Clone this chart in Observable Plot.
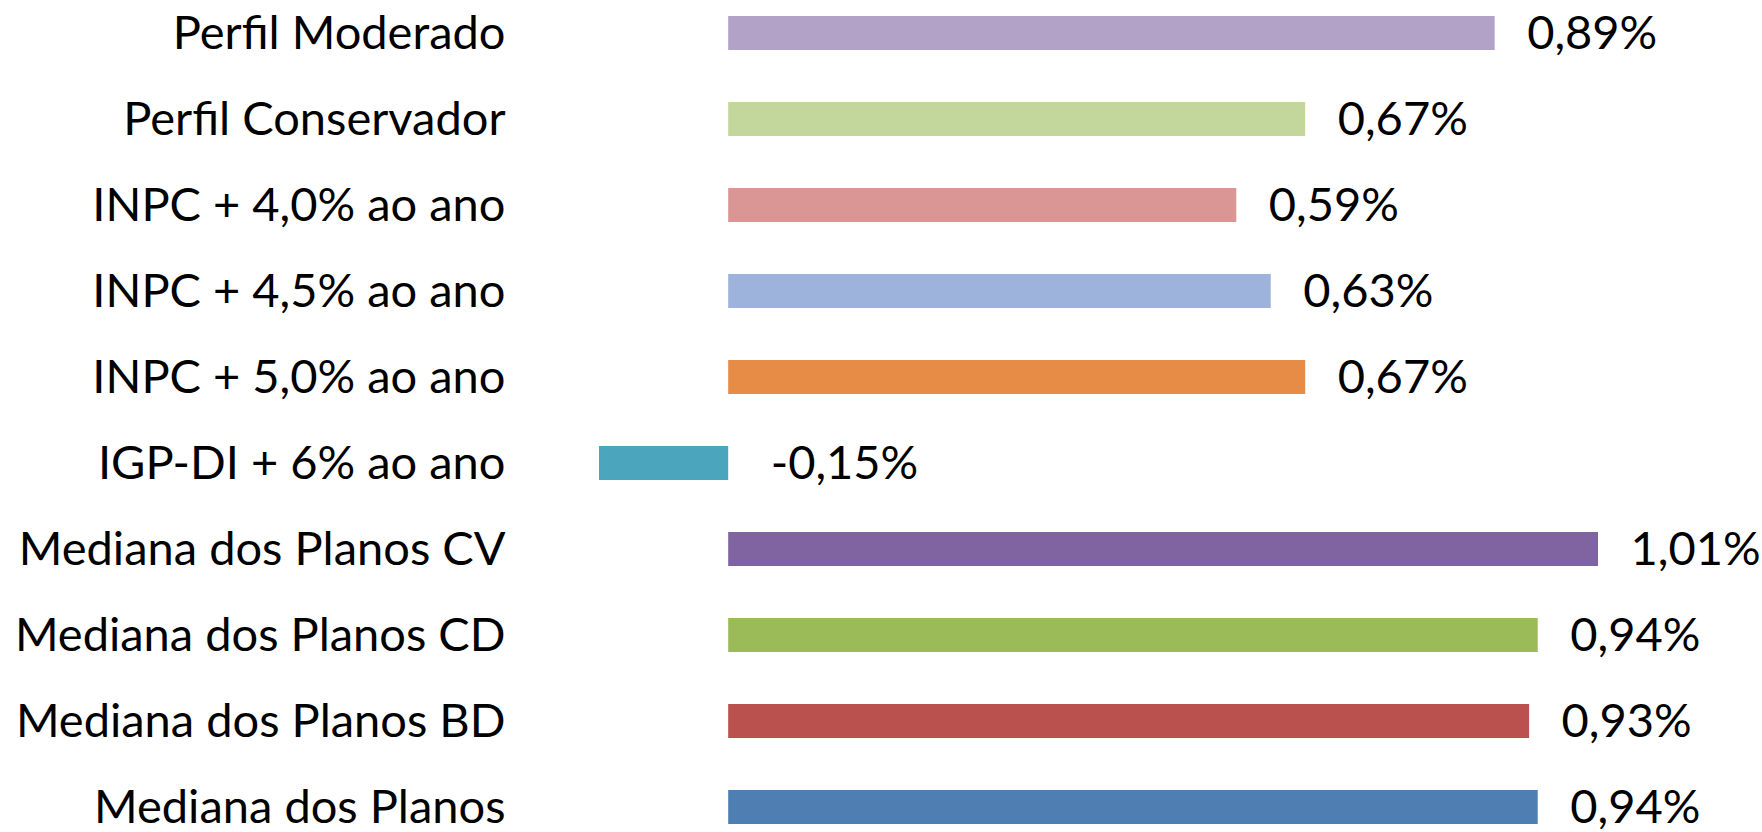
<!DOCTYPE html>
<html>
<head>
<meta charset="utf-8">
<script src="https://cdn.jsdelivr.net/npm/d3@7"></script>
<script src="https://cdn.jsdelivr.net/npm/@observablehq/plot@0.6"></script>
<style>
  html, body { margin: 0; padding: 0; background: #fff; }
  #chart { width: 1762px; height: 832px; }
</style>
</head>
<body>
<div id="chart"></div>
<script>
const categories = [
  "Perfil Moderado",
  "Perfil Conservador",
  "INPC + 4,0% ao ano",
  "INPC + 4,5% ao ano",
  "INPC + 5,0% ao ano",
  "IGP-DI + 6% ao ano",
  "Mediana dos Planos CV",
  "Mediana dos Planos CD",
  "Mediana dos Planos BD",
  "Mediana dos Planos"
];
const values = [0.89, 0.67, 0.59, 0.63, 0.67, -0.15, 1.01, 0.94, 0.93, 0.94];
const colors = ["#B3A2C7", "#C3D69B", "#D99694", "#9DB3DB", "#E68C47", "#4BA5BD", "#8064A2", "#9BBB59", "#BA514E", "#4F7EB3"];

const data = categories.map((c, i) => ({ category: c, value: values[i], color: colors[i] }));
const fmt = v => v.toFixed(2).replace(".", ",") + "%";

const chart = Plot.plot({
  width: 1762,
  height: 832,
  marginLeft: 599,
  marginRight: 164,
  marginTop: 15,
  marginBottom: 6,
  style: { fontFamily: "Lato, sans-serif", fontSize: "47px", color: "#000", background: "#fff" },
  x: { domain: [-0.15, 1.01], axis: null },
  y: { domain: categories, paddingInner: 0.6, paddingOuter: 0, label: null },
  marks: [
    Plot.barX(data, { y: "category", x: "value", fill: "color" }),
    Plot.axisY({ tickSize: 0, tickPadding: 94, fontSize: 47, fill: "#000", label: null }),
    Plot.text(data.filter(d => d.value >= 0), {
      y: "category",
      x: "value",
      text: d => fmt(d.value),
      textAnchor: "start",
      fontSize: 47,
      fill: "#000",
      dx: 32
    }),
    Plot.text(data.filter(d => d.value < 0), {
      y: "category",
      x: () => 0,
      text: d => fmt(d.value),
      textAnchor: "start",
      fontSize: 47,
      fill: "#000",
      dx: 42
    })
  ]
});
document.getElementById("chart").appendChild(chart);
</script>
</body>
</html>
